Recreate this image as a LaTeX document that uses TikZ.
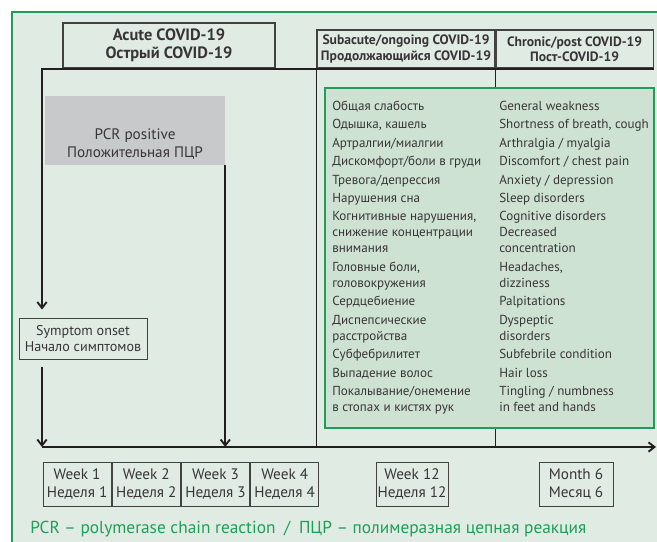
\documentclass[tikz,border=0pt]{standalone}
\usepackage{fontspec}
\setmainfont{PT Sans}
\usetikzlibrary{positioning,arrows.meta}
\definecolor{panel}{RGB}{224,235,228}
\definecolor{symfill}{RGB}{206,226,211}
\definecolor{covgreen}{RGB}{32,158,88}
\definecolor{pcrgray}{RGB}{200,201,203}
\definecolor{ink}{RGB}{35,31,32}
\tikzset{phase/.style = {draw=ink!85, line width=0.8pt, align=center, inner sep=0pt, font=\bfseries\fontsize{10.2}{11.5}\selectfont}}
\tikzset{week/.style = {draw=ink!85, line width=0.7pt, align=center, inner sep=0pt, minimum height=33pt, font=\fontsize{11.4}{13.5}\selectfont}}
\tikzset{symp/.style = {anchor=base west, align=left, inner sep=0pt, font=\fontsize{9.8}{12}\selectfont}}
\tikzset{axis/.style = {draw=ink, line width=1.4pt}}

\begin{document}
\begin{tikzpicture}[x=0.75pt, y=-0.75pt, >={Straight Barb[length=4.5pt,width=7pt]}, text=ink!90]
  \useasboundingbox (0,0) rectangle (657,542);
  \fill[white] (0,0) rectangle (657,542);
  \fill[panel] (12,12) rectangle (657,542);
  \draw[covgreen, line width=1pt] (12,542) -- (12,12) -- (657,12);

  % phases
  \node [phase, minimum width=159pt, minimum height=33.75pt, font=\bfseries\fontsize{12.3}{13.5}\selectfont] (acute) at (169,45.5) {Acute COVID-19\\Острый COVID-19};
  \node [phase, minimum width=133.5pt, minimum height=28.5pt] (sub) at (406,49) {Subacute/ongoing COVID-19\\Продолжающийся COVID-19};
  \node [phase, minimum width=117.75pt, minimum height=28.5pt, right=0pt of sub] (chron) {Chronic/post COVID-19\\Пост-COVID-19};

  \node [fill=pcrgray, minimum width=135pt, minimum height=51.75pt, inner sep=0pt] (pcr) at (135,130.5) {};
  \node [align=center, inner sep=0pt, font=\fontsize{11.4}{13.5}\selectfont] (pcrtext) at (135,144) {PCR positive\\Положительная ПЦР};
  \node [week, minimum width=96pt, minimum height=30.75pt, font=\fontsize{10.6}{12}\selectfont] (onset) at (83,338.5) {Symptom onset\\Начало симптомов};

  % time axis
  \coordinate (tl) at (42,69);
  \coordinate (tr) at (654,69);
  \coordinate (t0) at (42,447);
  \coordinate (tend) at (656,447);
  \draw[axis] (sub.south west) -- (sub.south west |- t0);
  \draw[axis] (sub.south east) -- (sub.south east |- t0);
  \draw[axis, ->, shorten >=6pt] (tr) -- (tl) -- (tl |- onset.north);
  \draw[axis, ->, shorten <=6pt] (tl |- onset.south) -- (t0);
  \draw[axis, ->] (pcr.south east) -- (pcr.south east |- t0);
  \draw[axis, ->] (t0) -- (tend);

  % symptoms (base = last line)
  \node [draw=covgreen, fill=symfill, line width=1pt, minimum width=246.75pt, minimum height=255pt, inner sep=0pt] (symbox) at (489.5,258) {};
  \foreach \y/\txt [count=\i] in {110/Общая слабость, 128/{Одышка, кашель}, 147/{Артралгии/миалгии},
      165/{Дискомфорт/боли в груди}, 184/{Тревога/депрессия}, 202/Нарушения сна,
      252/{Когнитивные нарушения,\\снижение концентрации\\внимания}, 287/{Головные боли,\\головокружения},
      305/Сердцебиение, 340/{Диспепсические\\расстройства}, 358/Субфебрилитет, 377/Выпадение волос,
      411/{Покалывание/онемение\\в стопах и кистях рук}}
    \node [symp] (ru\i) at (332,\y) {\txt};
  \foreach \y/\txt [count=\i] in {110/General weakness, 128/{Shortness of breath, cough}, 147/{Arthralgia / myalgia},
      165/{Discomfort / chest pain}, 184/{Anxiety / depression}, 202/Sleep disorders, 220/Cognitive disorders,
      252/{Decreased\\concentration}, 287/{Headaches,\\dizziness}, 305/Palpitations,
      340/{Dyspeptic\\disorders}, 358/Subfebrile condition, 377/Hair loss,
      411/{Tingling / numbness\\in feet and hands}}
    \node [symp] (en\i) at (499,\y) {\txt};

  \node [week, minimum width=51.2pt] (w1) at (77.1,484) {Week 1\\Неделя 1};
  \node [week, minimum width=51.2pt, right=0pt of w1] (w2) {Week 2\\Неделя 2};
  \node [week, minimum width=51.2pt, right=0pt of w2] (w3) {Week 3\\Неделя 3};
  \node [week, minimum width=51.2pt, right=0pt of w3] (w4) {Week 4\\Неделя 4};
  \node [week, minimum width=54pt] (w12) at (412,484) {Week 12\\Неделя 12};
  \node [week, minimum width=55.5pt] (m6) at (576,484) {Month 6\\Месяц 6};

  \node [anchor=west, inner sep=0pt, text=covgreen, font=\fontsize{13}{15}\selectfont] (note) at (30,529) {PCR – polymerase chain reaction\enspace/\enspace ПЦР – полимеразная цепная реакция};
\end{tikzpicture}
\end{document}
